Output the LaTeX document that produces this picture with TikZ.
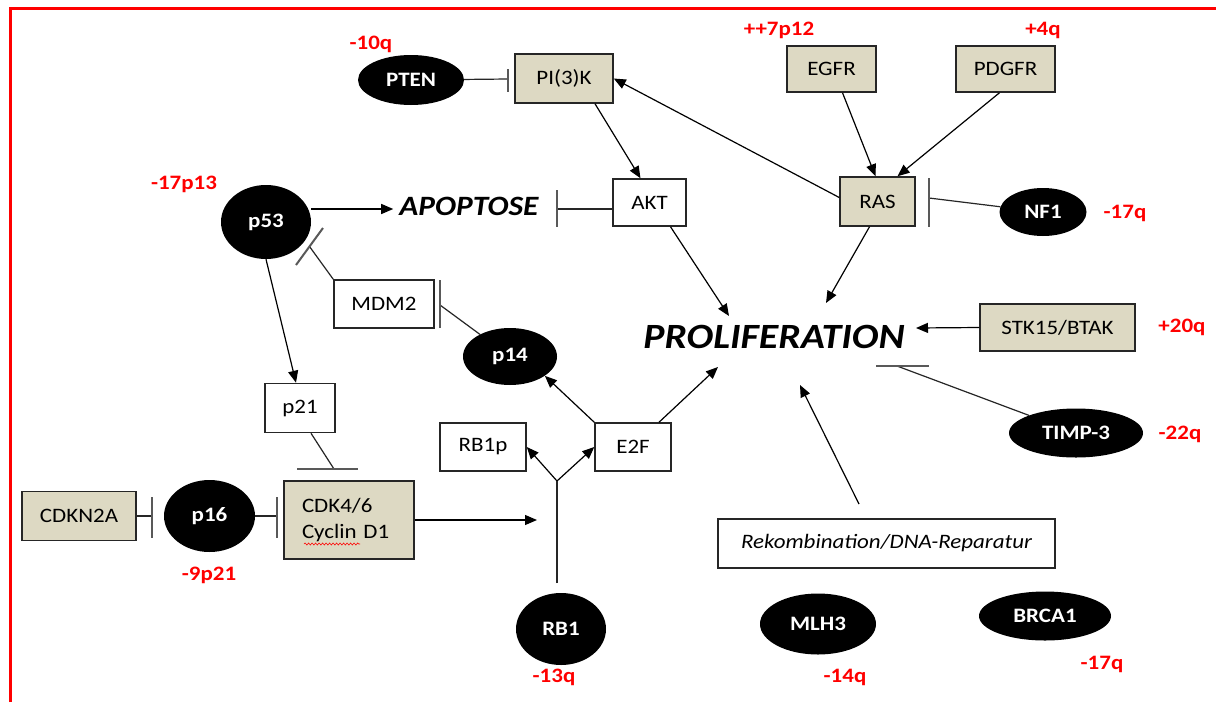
\documentclass[tikz,border=0pt]{standalone}
\usepackage{fontspec}
\setmainfont{Carlito}[FakeStretch=1.12]
\usetikzlibrary{arrows.meta,shapes.geometric,decorations.pathmorphing,calc}
\definecolor{beige}{HTML}{DDD9C3}
\definecolor{redlab}{HTML}{FF0000}
\definecolor{edge}{HTML}{262626}
\definecolor{bargray}{HTML}{595959}
\begin{document}
\begin{tikzpicture}[x=1pt,y=-1pt,
  box/.style={draw=edge,line width=1.5pt,inner sep=0pt,font=\fontsize{20.5}{26}\selectfont},
  gbox/.style={box,fill=beige},
  wbox/.style={box,fill=white},
  blob/.style={ellipse,fill=black,inner sep=0pt,text=white,font=\bfseries\fontsize{20.5}{24}\selectfont},
  lab/.style={text=redlab,inner sep=0pt,font=\bfseries\fontsize{20.5}{24}\selectfont},
  act/.style={draw=black,line width=1.2pt,-{Triangle[length=12pt,width=10pt]}},
  inh/.style={draw=edge,line width=1.2pt},
  bar/.style={draw=bargray,line width=2pt},
]
\useasboundingbox (0,0) rectangle (1216,702);
\fill[white] (0,0) rectangle (1216,702);
\draw[redlab,line width=3pt] (10,702) -- (10,8) -- (1216,8);

% boxes
\node[gbox,minimum width=98pt,minimum height=49pt] (pi3k) at (564,78.5) {PI(3)K};
\node[gbox,minimum width=89pt,minimum height=46pt] (egfr) at (831.5,69) {EGFR};
\node[gbox,minimum width=99pt,minimum height=46pt] (pdgfr) at (1005.5,69) {PDGFR};
\node[gbox,minimum width=75pt,minimum height=49pt] (ras) at (877.5,201.5) {RAS};
\node[wbox,minimum width=73pt,minimum height=47pt] (akt) at (649.5,202.5) {AKT};
\node[wbox,minimum width=100pt,minimum height=48pt] (mdm2) at (384,304) {MDM2};
\node[wbox,minimum width=70pt,minimum height=49pt] (p21) at (300,408) {p21};
\node[gbox,minimum width=130pt,minimum height=78pt,text width=94pt,align=left] (cdk) at (349,520) {CDK4/6\\Cyclin D1};
\node[gbox,minimum width=114pt,minimum height=49pt] (cdkn) at (79,516) {CDKN2A};
\node[wbox,minimum width=86pt,minimum height=48pt] (rb1p) at (483,447) {RB1p};
\node[wbox,minimum width=76pt,minimum height=48pt] (e2f) at (633,447) {E2F};
\node[gbox,minimum width=155pt,minimum height=47pt] (stk) at (1057.5,327.5) {STK15/BTAK};
\node[wbox,minimum width=337pt,minimum height=49pt,font=\itshape\fontsize{20.5}{24}\selectfont] (rek) at (886.5,543.5) {Rekombination/DNA-Reparatur};

% black ellipses
\node[blob,minimum width=106pt,minimum height=50pt] (pten) at (411,80) {PTEN};
\node[blob,minimum width=90pt,minimum height=74pt] (p53) at (266,222) {p53};
\node[blob,minimum width=87pt,minimum height=48pt] (nf1) at (1043,212) {NF1};
\node[blob,minimum width=94pt,minimum height=57pt] (p14) at (510,356.5) {p14};
\node[blob,minimum width=91pt,minimum height=72pt] (p16) at (209.5,516) {p16};
\node[blob,minimum width=90pt,minimum height=72pt] (rb1) at (561,629) {RB1};
\node[blob,minimum width=116pt,minimum height=61pt] (mlh3) at (818,624) {MLH3};
\node[blob,minimum width=132pt,minimum height=49pt] (brca1) at (1045,616) {BRCA1};
\node[blob,minimum width=134pt,minimum height=49pt] (timp) at (1076,433) {TIMP-3};

% process texts
\node[font=\bfseries\itshape\fontsize{35.5}{38}\selectfont,inner sep=0pt] (prolif) at (774,337) {PROLIFERATION};
\node[font=\bfseries\itshape\fontsize{28}{30}\selectfont,inner xsep=6pt,inner ysep=0pt] (apop) at (469,206) {APOPTOSE};

% red labels
\node[lab] (l1) at (371,44) {-10q};
\node[lab] (l2) at (184,184) {-17p13};
\node[lab] (l3) at (779,30) {++7p12};
\node[lab] (l4) at (1043,30) {+4q};
\node[lab] (l5) at (1125,213) {-17q};
\node[lab] (l6) at (1182,327) {+20q};
\node[lab] (l7) at (1180,434) {-22q};
\node[lab] (l8) at (209,575) {-9p21};
\node[lab] (l9) at (554,677) {-13q};
\node[lab] (l10) at (845,677) {-14q};
\node[lab] (l11) at (1102,664) {-17q};

% spell-check squiggle
\draw[redlab,line width=0.6pt,decorate,decoration={snake,amplitude=1pt,segment length=3.5pt}] (304,544) -- (360,544);

% coordinates
\coordinate (bPI) at (508,79);
\coordinate (bNF) at (929,198);
\coordinate (bAK) at (557,209);
\coordinate (bMD) at (309.5,246.5);
\coordinate (bP14) at (440,305);
\coordinate (bP21) at (334,469);
\coordinate (bCK) at (152,516);
\coordinate (bP16) at (277,516);
\coordinate (bTI) at (897,366);
\coordinate (fk) at (537,520);
\coordinate (rbtop) at (557,583);
\coordinate (fork) at (557,481);
\coordinate (pA) at (729,316);
\coordinate (pR) at (826,303);
\coordinate (pE) at (718,367);
\coordinate (pS) at (916,328);
\coordinate (pK) at (800,385);
\coordinate (rk) at (859,504);

% activations
\draw[act] ([yshift=4pt]ras.west) -- (pi3k.east);
\draw[act] ([xshift=11pt]egfr.south) -- ([xshift=-2pt]ras.north);
\draw[act] ([xshift=-6pt]pdgfr.south) -- ([xshift=20pt]ras.north);
\draw[act] ([xshift=31pt]pi3k.south) -- ([xshift=-9pt]akt.north);
\draw[act] ([yshift=13pt]p53.east) -- ([yshift=13pt]p53.east -| apop.west);
\draw[act] (p53.south) -- ([xshift=-4pt]p21.north);
\draw[act] (cdk.east) -- (fk);
\draw[act] (fork) -- (rb1p.east);
\draw[act] (fork) -- (e2f.west);
\draw[act] (e2f.north west) -- (p14.-29);
\draw[act] ([xshift=26pt]e2f.north) -- (pE);
\draw[act] ([xshift=21pt]akt.south) -- (pA);
\draw[act] ([xshift=-8pt]ras.south) -- (pR);
\draw[act] (stk.west) -- (pS);
\draw[act] (rk) -- (pK);
\draw[inh] (rbtop) -- (fork);

% inhibitions
\draw[inh] (pten) -- (bPI);
\draw[bar] ($(bPI)+(0,-10)$) -- ($(bPI)+(0,13)$);
\draw[inh] (nf1) -- (bNF);
\draw[bar] ($(bNF)+(0,-20)$) -- ($(bNF)+(0,29)$);
\draw[inh] ([yshift=-6.5pt]akt.west) -- (bAK);
\draw[bar] ($(bAK)+(0,-19)$) -- ($(bAK)+(0,18)$);
\draw[inh] (mdm2.north west) -- (bMD);
\draw[bar] (323,228) -- (296,265);
\draw[inh] (p14) -- (bP14);
\draw[bar] ($(bP14)+(0,-25)$) -- ($(bP14)+(0,23)$);
\draw[inh] ([xshift=11pt]p21.south) -- (bP21);
\draw[bar] (297,469) -- (358,469);
\draw[inh] (cdkn.east) -- (bCK);
\draw[bar] ($(bCK)+(0,-19)$) -- ($(bCK)+(0,22)$);
\draw[inh] (p16.east) -- (bP16);
\draw[bar] ($(bP16)+(0,-19)$) -- ($(bP16)+(0,22)$);
\draw[inh] (timp) -- (bTI);
\draw[bar] (876,366) -- (929,366);
\end{tikzpicture}
\end{document}
